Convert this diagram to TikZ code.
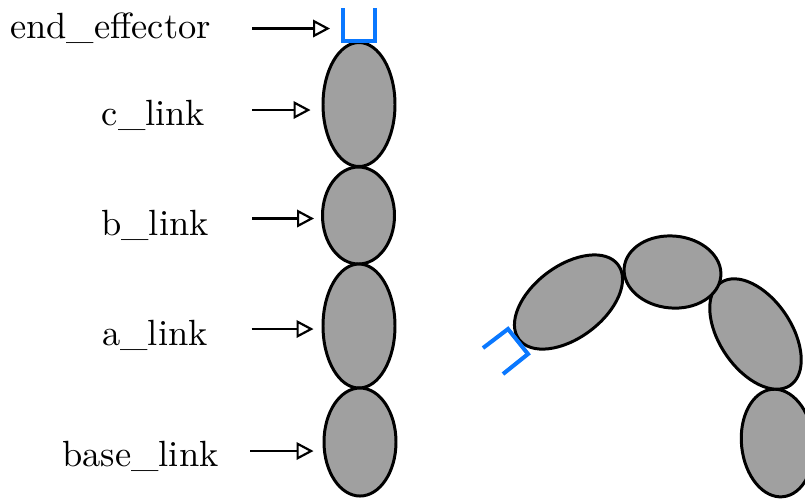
\documentclass[tikz,border=0pt]{standalone}
\usepackage{tikz}
\usetikzlibrary{arrows.meta, positioning, calc, shapes.geometric}
\definecolor{gripblue}{HTML}{0A78FF}
\definecolor{linkgray}{HTML}{A0A0A0}

\begin{document}
\begin{tikzpicture}[link/.style = {ellipse, inner sep=0pt, draw=black, fill=linkgray, line width=0.85pt},
    longlink/.style = {link, minimum width=0.72cm, minimum height=1.24cm},
    baselink/.style = {link, minimum width=0.72cm, minimum height=1.08cm},
    shortlink/.style = {link, minimum width=0.72cm, minimum height=0.97cm},
    tag/.style = {inner sep=0pt, font=\fontsize{10.37}{12}\selectfont},
    gripper/.style = {draw=gripblue, line width=1.15pt, miter limit=10},
    pointer/.style = {-{Triangle[open, length=1.7mm, width=1.75mm, fill=white]}, line width=0.62pt}]
        \useasboundingbox (0,0) rectangle (8.05,-4.98);
        % straight arm
        \node[longlink] (c_link) at (3.59,-1.045) {};
        \node[shortlink] (b_link) at (3.585,-2.155) {};
        \node[longlink] (a_link) at (3.59,-3.26) {};
        \node[baselink] (base_link) at (3.60,-4.42) {};
        \draw[gripper] (3.43,-0.08) -- (3.43,-0.41) -- (3.75,-0.41) -- (3.75,-0.08);
        % labels
        \node[tag] (end_label) at (1.105,-0.285) {end\_effector};
        \node[tag] (c_label) at (1.535,-1.155) {c\_link};
        \node[tag] (b_label) at (1.55,-2.25) {b\_link};
        \node[tag] (a_label) at (1.55,-3.355) {a\_link};
        \node[tag] (base_label) at (1.405,-4.565) {base\_link};
        \coordinate (end_tail) at (2.52,-0.285);
        \coordinate (end_tip) at (3.30,-0.285);
        \coordinate (c_tail) at (2.52,-1.10);
        \coordinate (b_tail) at (2.52,-2.185);
        \coordinate (a_tail) at (2.515,-3.29);
        \coordinate (base_tail) at (2.50,-4.51);
        \draw[pointer] (end_tail) -- (end_tip);
        \draw[pointer, shorten >=0.11cm] (c_tail) -- (c_tail -| c_link.west);
        \draw[pointer, shorten >=0.07cm] (b_tail) -- (b_tail -| b_link.west);
        \draw[pointer, shorten >=0.08cm] (a_tail) -- (a_tail -| a_link.west);
        \draw[pointer, shorten >=0.09cm] (base_tail) -- (base_tail -| base_link.west);
        % bent arm
        \node[baselink, rotate=6] (base_bent) at (7.775,-4.43) {};
        \node[longlink, rotate=34] (a_bent) at (7.555,-3.34) {};
        \node[shortlink, rotate=85] (b_bent) at (6.725,-2.72) {};
        \node[longlink, rotate=-53] (c_bent) at (5.685,-3.02) {};
        \draw[gripper] (4.83,-3.48) -- (5.08,-3.29) -- (5.28,-3.54) -- (5.03,-3.74);
\end{tikzpicture}
\end{document}
